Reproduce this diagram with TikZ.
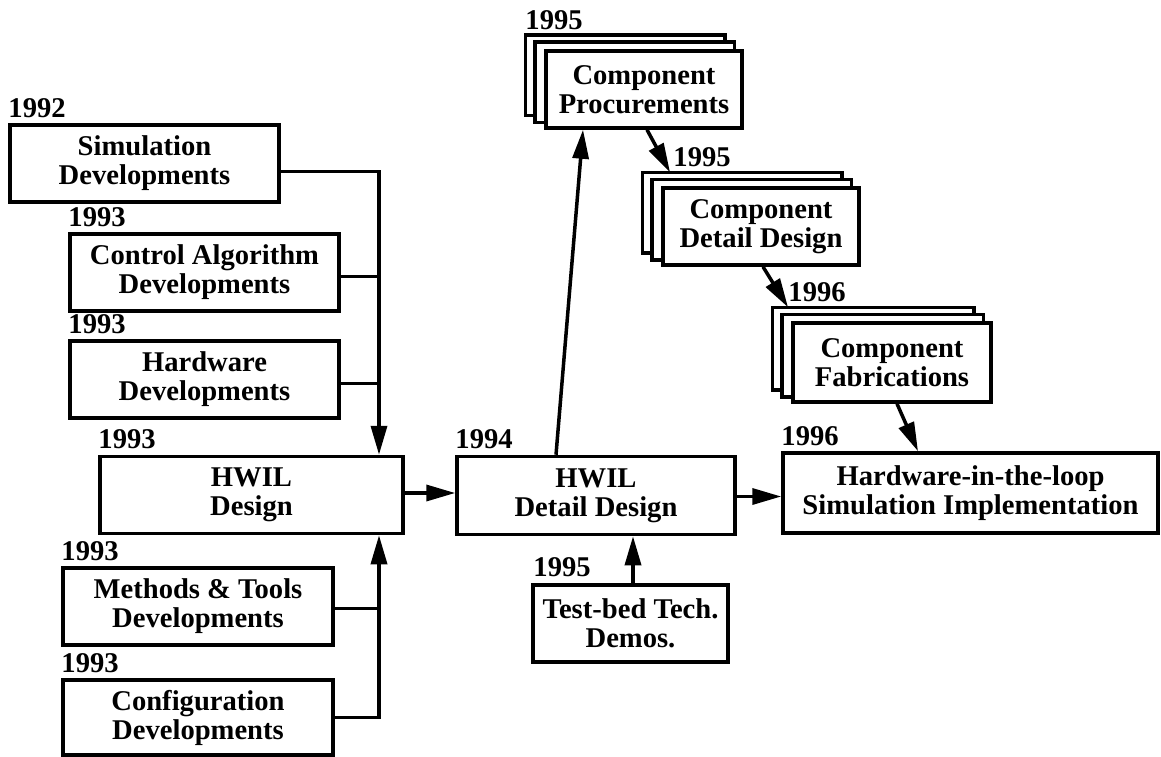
\documentclass[tikz,border=0pt]{standalone}
\usepackage{fontspec}
\setmainfont{Liberation Serif}
\usetikzlibrary{arrows.meta,backgrounds}
\tikzset{
  txt/.style={font=\bfseries\fontsize{28.6}{29}\selectfont},
  box/.style={txt, draw, line width=3.5pt, fill=white, align=center, inner sep=0pt},
  yr/.style={txt, anchor=base west, inner sep=0pt},
  conn/.style={line width=3.5pt},
  arr/.style={conn, -{Triangle[length=29pt,width=16pt]}},
  backbox/.style={draw, line width=3.5pt, fill=white},
}
\begin{document}
\begin{tikzpicture}[x=1pt,y=-1pt]
\useasboundingbox (0,0) rectangle (1161,757);
% left column
\node[box, minimum width=269pt, minimum height=77pt] (sim) at (144.5,163.5) {Simulation\\Developments};
\node[box, minimum width=269pt, minimum height=77pt] (ctrl) at (204.5,272.5) {Control Algorithm\\Developments};
\node[box, minimum width=269pt, minimum height=77pt] (hw) at (204.5,379.5) {Hardware\\Developments};
\node[box, minimum width=303pt, minimum height=77pt] (hd) at (251.5,495) {HWIL\\Design};
\node[box, minimum width=270pt, minimum height=77pt] (mt) at (198,606.5) {Methods \& Tools\\Developments};
\node[box, minimum width=270pt, minimum height=75pt] (cfg) at (198,717.5) {Configuration\\Developments};
% middle
\node[box, minimum width=278pt, minimum height=78pt] (hdd) at (596,495.5) {HWIL\\Detail Design};
\node[box, minimum width=195pt, minimum height=77pt] (tb) at (630.5,623.5) {Test-bed Tech.\\Demos.};
\node[box, minimum width=375pt, minimum height=80pt] (impl) at (970.5,493) {Hardware-in-the-loop\\Simulation Implementation};
% stacks
\node[box, minimum width=196pt, minimum height=77pt] (proc) at (644,89.5) {Component\\Procurements};
\node[box, minimum width=196pt, minimum height=77pt] (cdd) at (761,226.5) {Component\\Detail Design};
\node[box, minimum width=198pt, minimum height=79pt] (fab) at (892,362.5) {Component\\Fabrications};
\begin{scope}[on background layer]
\foreach \n in {proc,cdd,fab}{
  \draw[backbox] ([shift={(-19,-14)}]\n.north west) rectangle ([shift={(-19,-14)}]\n.south east);
  \draw[backbox] ([shift={(-9.5,-7)}]\n.north west) rectangle ([shift={(-9.5,-7)}]\n.south east);
}
\end{scope}
% year labels
\node[yr] (ysim) at ([yshift=6pt]sim.north west) {1992};
\node[yr] (yctrl) at ([yshift=6pt]ctrl.north west) {1993};
\node[yr] (yhw) at ([yshift=6pt]hw.north west) {1993};
\node[yr] (yhd) at ([yshift=6pt]hd.north west) {1993};
\node[yr] (ymt) at ([yshift=6pt]mt.north west) {1993};
\node[yr] (ycfg) at ([yshift=6pt]cfg.north west) {1993};
\node[yr] (yhdd) at ([yshift=6pt]hdd.north west) {1994};
\node[yr] (ytb) at ([shift={(2,-7)}]tb.north west) {1995};
\node[yr] (yimpl) at ([yshift=6pt]impl.north west) {1996};
\node[yr] (yproc) at ([shift={(-19,-20)}]proc.north west) {1995};
\node[yr] (ycdd) at ([shift={(12,-20)}]cdd.north west) {1995};
\node[yr] (yfab) at ([shift={(-3,-20)}]fab.north west) {1996};
% bus
\coordinate (bus) at (379,0);
\draw[arr] ([yshift=-8pt]sim.east) -| (hd.north -| bus);
\draw[conn] ([yshift=-4pt]ctrl.east) -- ([yshift=-4pt]ctrl.east -| bus);
\draw[conn] ([yshift=-4pt]hw.east) -- ([yshift=-4pt]hw.east -| bus);
\draw[arr] (cfg.east) -| (hd.south -| bus);
\draw[conn] ([yshift=-2pt]mt.east) -- ([yshift=-2pt]mt.east -| bus);
% flows
\draw[arr] ([yshift=2pt]hd.east) -- ([yshift=2pt]hd.east -| hdd.west);
\draw[arr] ([yshift=-1pt]hdd.east) -- ([yshift=-1pt]hdd.east -| impl.west);
\draw[arr] ([xshift=2.5pt]tb.north) -- ([xshift=2.5pt]tb.north |- hdd.south);
\draw[arr] ([xshift=-40pt]hdd.north) -- ([xshift=-61pt]proc.south);
\draw[arr] ([xshift=3pt]proc.south) -- ([shift={(-91,-14)}]cdd.north);
\draw[arr] ([xshift=2pt]cdd.south) -- ([shift={(-104,-14)}]fab.north);
\draw[arr] ([xshift=5pt]fab.south) -- ([xshift=-52.5pt]impl.north);
\end{tikzpicture}
\end{document}
